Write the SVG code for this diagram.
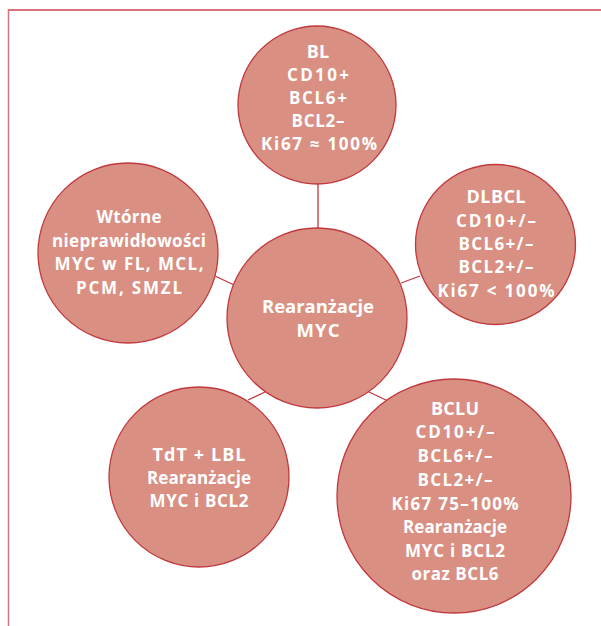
<svg xmlns="http://www.w3.org/2000/svg" width="601" height="626" viewBox="0 0 601 626">
<style>
.node{fill:#d98f82;stroke:#c0393f;stroke-width:1.3}
.edge{stroke:#c0393f;stroke-width:1.3;fill:none}
text{font-family:"Open Sans","Noto Sans","Liberation Sans",sans-serif;font-size:17px;font-weight:700;fill:#ffffff;text-anchor:middle}
.h{font-size:18px}
.c{font-size:18.5px}
</style>
<rect width="601" height="626" fill="#ffffff"/>
<g id="frame" fill="none" stroke="#d6737a">
<line x1="8" y1="10" x2="601" y2="10" stroke-width="2"/>
<line x1="8.5" y1="9" x2="8.5" y2="626" stroke-width="1.5"/>
</g>
<g id="connectors">
<line class="edge" x1="318" y1="184" x2="318" y2="229"/>
<line class="edge" x1="215" y1="276" x2="234" y2="285"/>
<line class="edge" x1="401" y1="283" x2="420" y2="276"/>
<line class="edge" x1="248" y1="400" x2="267" y2="391"/>
<line class="edge" x1="367" y1="391" x2="388" y2="401"/>
</g>
<g id="node-bl">
<circle class="node" cx="317" cy="105" r="79"/>
<text class="h" x="318" y="58">BL</text>
<text x="318" y="81" textLength="62">CD10+</text>
<text x="318" y="104" textLength="58">BCL6+</text>
<text x="318" y="127" textLength="53">BCL2–</text>
<text x="319" y="150" textLength="116">Ki67 ≈ 100%</text>
</g>
<g id="node-dlbcl">
<circle class="node" cx="495.5" cy="244.5" r="80"/>
<text class="h" x="496" y="203" textLength="59">DLBCL</text>
<text x="496" y="227" textLength="80">CD10+/–</text>
<text x="496" y="250" textLength="75">BCL6+/–</text>
<text x="496" y="273" textLength="75">BCL2+/–</text>
<text x="496" y="297" textLength="117">Ki67 &lt; 100%</text>
</g>
<g id="node-wtorne">
<circle class="node" cx="128" cy="253" r="90"/>
<text x="129" y="223" textLength="65">Wtórne</text>
<text x="129" y="247" textLength="154">nieprawidłowości</text>
<text x="129" y="270" textLength="149">MYC w FL, MCL,</text>
<text x="129" y="294" textLength="106">PCM, SMZL</text>
</g>
<g id="node-center">
<circle class="node" cx="317" cy="318" r="90"/>
<text class="c" x="318" y="313" textLength="112">Rearanżacje</text>
<text class="c" x="318" y="337" textLength="43">MYC</text>
</g>
<g id="node-tdt">
<circle class="node" cx="199" cy="477" r="90"/>
<text class="h" x="199" y="461" textLength="93">TdT + LBL</text>
<text x="199" y="484" textLength="104">Rearanżacje</text>
<text x="199" y="507" textLength="99">MYC i BCL2</text>
</g>
<g id="node-bclu">
<circle class="node" cx="454" cy="496" r="117"/>
<text class="h" x="455" y="415" textLength="48">BCLU</text>
<text x="455" y="438" textLength="79">CD10+/–</text>
<text x="455" y="462" textLength="75">BCL6+/–</text>
<text x="455" y="486" textLength="75">BCL2+/–</text>
<text x="455" y="510" textLength="127">Ki67 75–100%</text>
<text x="455" y="533" textLength="104">Rearanżacje</text>
<text x="455" y="557" textLength="100">MYC i BCL2</text>
<text x="455" y="580" textLength="87">oraz BCL6</text>
</g>
</svg>
